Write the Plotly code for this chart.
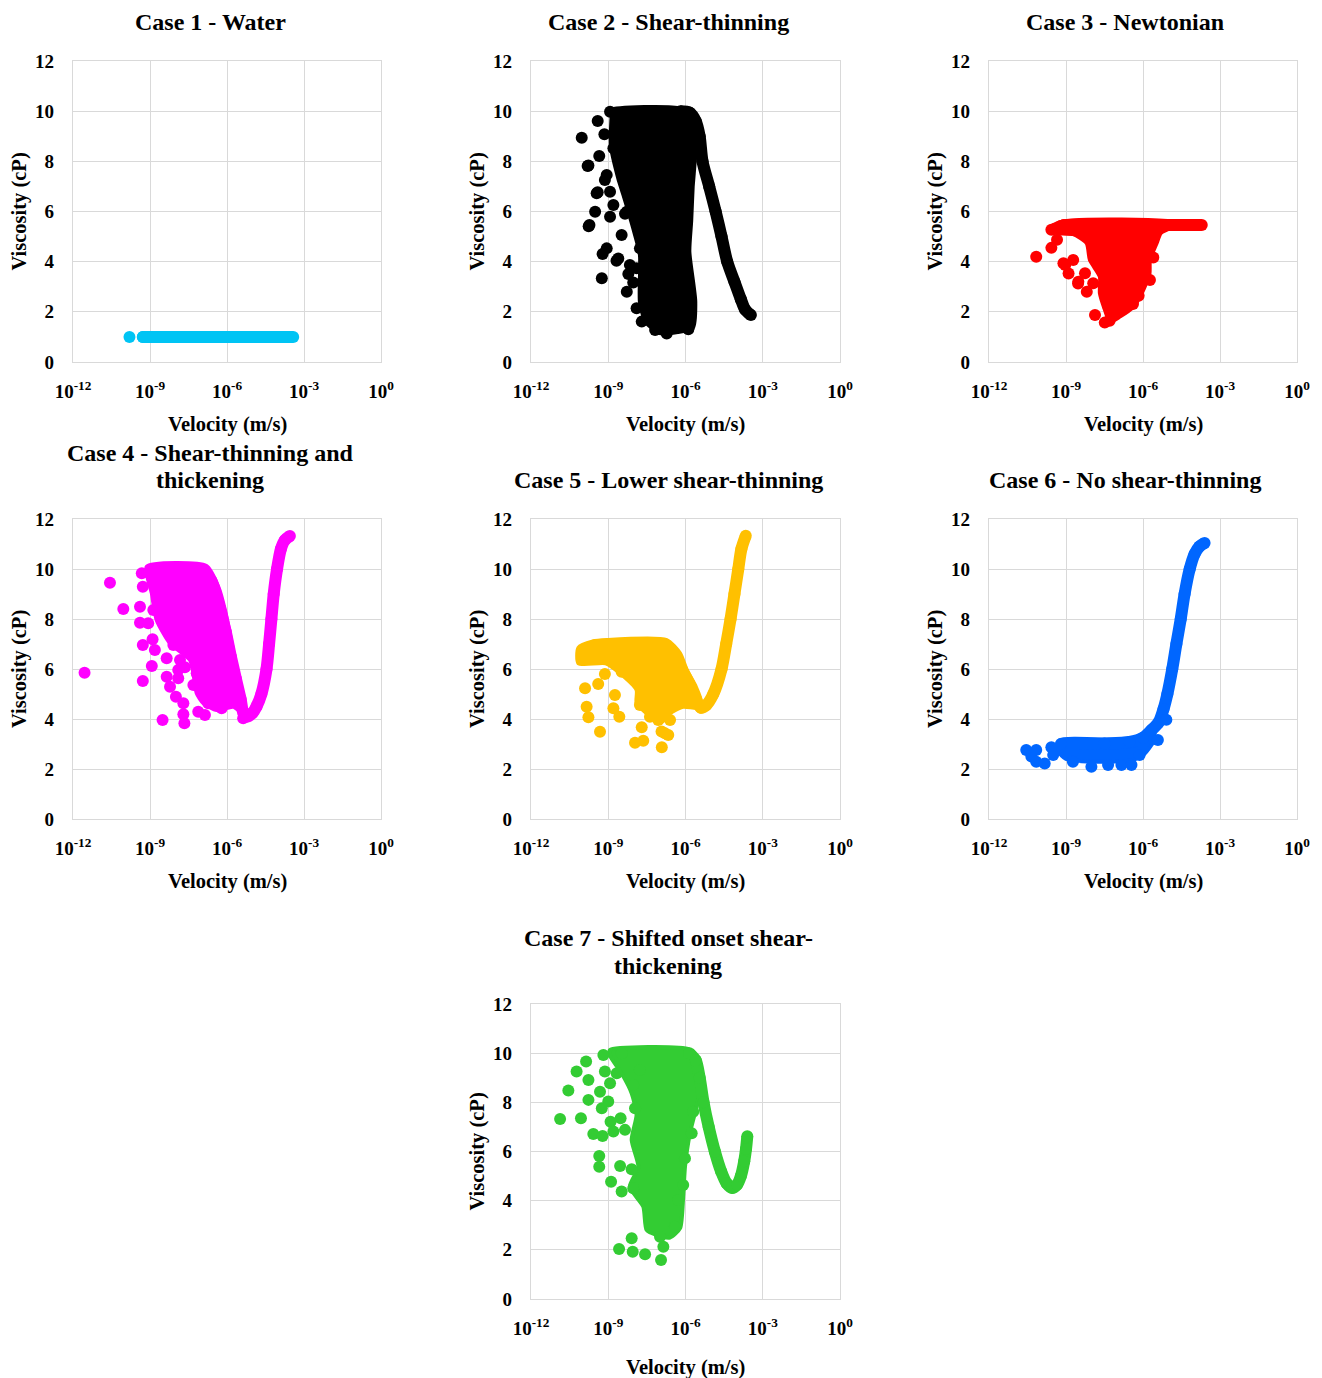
import plotly.graph_objects as go

W, H = 1322, 1378
SERIF = "Liberation Serif"

# ------------------------------------------------------------------
# Data: pairs of (log10 velocity [m/s], viscosity [cP])
#   *_BAND : dense traces that read as a continuous thick curve
#   *_BODY : outline of the solid, densely-packed cloud
#   *_PTS  : isolated scatter points
# ------------------------------------------------------------------
C1_BAND = [(-9.28, 1.0), (-6.0, 1.0), (-3.42, 1.0)]
C1_PTS = [(-9.80, 1.0), (-9.28, 1.0), (-9.0, 1.0)]

C2_BAND = [(-6.2, 10.0), (-5.85, 9.95), (-5.6, 9.6), (-5.45, 9.0), (-5.34, 8.0),
           (-5.08, 7.0), (-4.83, 6.0), (-4.6, 5.0), (-4.38, 4.0), (-4.1, 3.2),
           (-3.85, 2.5), (-3.69, 2.1), (-3.46, 1.87)]
C2_BODY = [(-8.87, 10.05), (-6.2, 10.1), (-5.75, 9.7), (-5.6, 8.8), (-5.68, 7.5),
           (-5.72, 7.0), (-5.78, 5.6), (-5.85, 4.4), (-5.62, 2.4), (-5.72, 1.35),
           (-6.3, 1.2), (-7.0, 1.15), (-7.55, 1.6), (-7.77, 2.4), (-7.77, 4.27),
           (-8.03, 5.33), (-8.41, 6.66), (-8.61, 7.32), (-8.9, 8.65), (-8.87, 9.85)]
C2_PTS = [(-8.93, 9.98), (-9.41, 9.61), (-10.03, 8.94), (-9.15, 9.08), (-9.35, 8.21),
          (-9.77, 7.83), (-9.06, 7.46), (-9.41, 6.77), (-9.51, 5.99), (-9.73, 5.46),
          (-8.93, 5.79), (-8.80, 6.26), (-9.06, 4.53), (-8.61, 4.13), (-9.25, 3.34),
          (-8.28, 2.80), (-8.48, 5.06), (-8.28, 5.99), (-8.09, 6.39), (-7.90, 2.14),
          (-7.70, 1.61), (-7.18, 1.28), (-6.73, 1.14), (-7.77, 4.53), (-7.90, 3.74),
          (-8.16, 3.87), (-8.80, 8.52), (-8.93, 6.79), (-9.13, 7.26), (-9.76, 5.41),
          (-9.80, 7.81), (-9.45, 6.73), (-9.22, 4.31), (-8.68, 4.04), (-8.35, 5.91),
          (-5.89, 1.31), (-8.22, 3.51), (-8.03, 3.17)]

C3_BAND = [(-9.45, 5.3), (-9.1, 5.45), (-6.0, 5.46), (-3.71, 5.46)]
C3_BODY = [(-9.3, 5.55), (-4.5, 5.55), (-5.3, 5.15), (-5.47, 4.73), (-5.73, 4.07),
           (-5.75, 3.5), (-6.05, 2.74), (-6.38, 2.2), (-6.9, 1.81), (-7.29, 1.6),
           (-7.48, 2.07), (-7.68, 2.74), (-7.68, 3.4), (-8.07, 4.07), (-8.19, 4.73),
           (-8.72, 5.1), (-9.3, 5.15)]
C3_PTS = [(-10.16, 4.2), (-9.57, 4.55), (-9.35, 4.87), (-9.57, 5.27), (-9.03, 3.87),
          (-8.9, 3.53), (-8.72, 4.07), (-8.53, 3.13), (-8.26, 3.54), (-8.19, 2.8),
          (-7.94, 3.14), (-7.87, 1.87), (-7.49, 1.57), (-7.3, 1.64), (-7.36, 2.24),
          (-6.39, 2.31), (-6.17, 2.64), (-5.73, 3.27), (-5.6, 4.17), (-9.1, 3.94),
          (-8.52, 3.2)]

C4_BAND = [(-7.0, 10.0), (-6.6, 9.5), (-6.3, 8.5), (-6.05, 7.5), (-5.85, 6.5),
           (-5.65, 5.6), (-5.47, 4.8), (-5.35, 4.2), (-5.22, 4.1), (-5.0, 4.25),
           (-4.85, 4.5), (-4.66, 5.0), (-4.46, 6.0), (-4.36, 7.0), (-4.27, 8.0),
           (-4.18, 9.0), (-4.05, 10.0), (-3.9, 10.8), (-3.75, 11.15), (-3.55, 11.32)]
C4_BODY = [(-9.13, 10.09), (-6.8, 10.12), (-6.34, 9.29), (-6.08, 8.36), (-5.82, 7.03),
           (-5.56, 5.69), (-5.3, 4.63), (-5.35, 4.2), (-5.75, 4.49), (-6.4, 4.36),
           (-6.92, 4.63), (-7.18, 5.03), (-7.31, 5.83), (-7.44, 6.36), (-8.22, 7.03),
           (-8.74, 7.96), (-8.93, 9.03)]
C4_PTS = [(-11.55, 5.85), (-10.56, 9.45), (-10.04, 8.4), (-9.32, 9.83), (-9.28, 9.29),
          (-9.39, 8.49), (-9.39, 7.85), (-9.28, 6.96), (-8.93, 6.12), (-9.28, 5.52),
          (-8.81, 6.76), (-8.9, 7.19), (-8.35, 6.43), (-8.51, 3.96), (-8.35, 5.69),
          (-8.22, 5.29), (-7.9, 5.63), (-7.99, 4.89), (-7.7, 4.63), (-7.7, 4.19),
          (-7.66, 3.83), (-7.83, 6.36), (-7.64, 6.07), (-7.12, 4.29), (-6.86, 4.16),
          (-6.73, 4.63), (-6.21, 4.43), (-6.47, 4.96), (-7.31, 5.36), (-7.9, 5.96),
          (-9.07, 7.83), (-8.87, 8.36), (-8.74, 9.03), (-8.35, 7.76), (-8.54, 8.49),
          (-8.09, 6.96), (-7.44, 6.89), (-7.18, 5.83), (-6.66, 5.29), (-5.37, 4.03)]

C5_BAND = [(-6.95, 7.0), (-6.5, 6.6), (-6.15, 6.0), (-5.85, 5.4), (-5.6, 4.8),
           (-5.4, 4.45), (-5.2, 4.55), (-4.92, 5.0), (-4.6, 6.0), (-4.42, 7.0),
           (-4.25, 8.0), (-4.1, 9.0), (-3.95, 10.0), (-3.83, 10.8), (-3.66, 11.33)]
C5_BODY = [(-10.16, 6.85), (-9.6, 7.1), (-9.06, 7.16), (-6.73, 7.16), (-6.21, 6.63),
           (-5.95, 5.96), (-5.6, 5.29), (-5.4, 4.7), (-5.5, 4.45), (-6.09, 4.49),
           (-6.6, 4.23), (-6.99, 3.83), (-7.51, 4.23), (-7.9, 4.63), (-7.9, 5.16),
           (-8.54, 5.83), (-9.1, 6.23), (-10.16, 6.23)]
C5_PTS = [(-9.90, 5.23), (-9.84, 4.49), (-9.77, 4.07), (-9.32, 3.49), (-9.39, 5.4),
          (-9.13, 5.8), (-8.74, 4.96), (-8.80, 4.43), (-8.57, 4.09), (-8.48, 5.89),
          (-7.96, 3.05), (-7.64, 3.13), (-7.7, 3.67), (-6.92, 2.87), (-6.8, 3.43),
          (-7.64, 5.09), (-7.77, 4.56), (-7.38, 4.09), (-7.06, 3.96), (-6.6, 3.96),
          (-9.97, 6.69), (-9.97, 6.39), (-9.51, 6.96), (-9.58, 6.63), (-6.93, 3.5),
          (-6.67, 3.36)]

C6_BAND = [(-9.2, 3.0), (-7.5, 3.02), (-6.52, 3.08), (-6.0, 3.25), (-5.68, 3.55),
           (-5.4, 3.85), (-5.2, 4.4), (-5.05, 5.0), (-4.86, 6.0), (-4.7, 7.0),
           (-4.53, 8.0), (-4.38, 9.0), (-4.18, 10.0), (-3.99, 10.6), (-3.8, 10.9),
           (-3.6, 11.04)]
C6_BODY = [(-9.25, 3.15), (-6.4, 3.15), (-5.9, 3.35), (-5.55, 3.7), (-5.6, 3.1),
           (-5.95, 2.6), (-6.4, 2.35), (-7.2, 2.3), (-8.2, 2.3), (-9.0, 2.4),
           (-9.3, 2.7)]
C6_PTS = [(-10.55, 2.76), (-10.35, 2.5), (-10.16, 2.76), (-10.16, 2.29), (-9.83, 2.22),
          (-9.57, 2.87), (-9.5, 2.56), (-8.73, 2.29), (-8.01, 2.09), (-7.36, 2.16),
          (-6.84, 2.16), (-6.45, 2.16), (-6.13, 2.56), (-5.42, 3.16), (-5.09, 3.97)]

C7_BAND = [(-5.85, 10.0), (-5.6, 9.7), (-5.45, 9.0), (-5.3, 8.0), (-5.1, 7.0),
           (-4.86, 6.0), (-4.62, 5.2), (-4.4, 4.7), (-4.2, 4.52), (-4.0, 4.65),
           (-3.85, 5.0), (-3.72, 5.6), (-3.65, 6.1), (-3.6, 6.62)]
C7_BODY = [(-8.93, 10.13), (-5.85, 10.15), (-5.55, 9.7), (-5.4, 8.6), (-5.57, 7.82),
           (-5.83, 6.74), (-6.02, 5.38), (-6.09, 4.16), (-6.21, 2.88), (-6.6, 2.5),
           (-7.12, 2.6), (-7.51, 2.81), (-7.64, 3.76), (-8.16, 4.57), (-7.83, 5.38),
           (-8.09, 6.47), (-7.9, 7.5), (-8.09, 8.37), (-8.48, 9.18), (-8.93, 9.9)]
C7_PTS = [(-10.87, 7.32), (-10.06, 7.35), (-10.55, 8.48), (-10.23, 9.25), (-9.86, 9.66),
          (-9.77, 8.91), (-9.77, 8.10), (-9.32, 8.43), (-9.0, 8.03), (-9.25, 7.76),
          (-9.58, 6.71), (-9.22, 6.63), (-8.91, 7.21), (-8.52, 7.35), (-8.80, 6.81),
          (-8.35, 6.88), (-9.35, 5.82), (-9.35, 5.38), (-8.54, 5.41), (-8.09, 5.28),
          (-8.89, 4.77), (-8.48, 4.37), (-8.03, 4.50), (-8.09, 2.47), (-8.58, 2.03),
          (-8.05, 1.92), (-7.57, 1.82), (-6.95, 1.59), (-6.86, 2.13), (-6.99, 2.53),
          (-6.41, 2.94), (-6.28, 4.03), (-6.09, 4.64), (-6.02, 5.72), (-5.76, 6.74),
          (-5.70, 7.62), (-7.96, 7.76), (-8.03, 8.71), (-9.13, 9.25), (-8.67, 9.18),
          (-8.93, 8.78), (-9.19, 9.93), (-8.48, 10.0), (-7.77, 9.32)]

TITLES = ["Case 1 - Water", "Case 2 - Shear-thinning", "Case 3 - Newtonian",
          "Case 4 - Shear-thinning and<br>thickening", "Case 5 - Lower shear-thinning",
          "Case 6 - No shear-thinning", "Case 7 - Shifted onset shear-<br>thickening"]
COLORS = ["#00C4F4", "#000000", "#FF0000", "#FF00FF", "#FFC000", "#0066FF", "#33CC33"]

X_TICKVALS = [1e-12, 1e-9, 1e-6, 1e-3, 1]
X_TICKTEXT = ["10<sup>-12</sup>", "10<sup>-9</sup>", "10<sup>-6</sup>",
              "10<sup>-3</sup>", "10<sup>0</sup>"]

SERIES = [
    (C1_BAND, None, C1_PTS),
    (C2_BAND, C2_BODY, C2_PTS),
    (C3_BAND, C3_BODY, C3_PTS),
    (C4_BAND, C4_BODY, C4_PTS),
    (C5_BAND, C5_BODY, C5_PTS),
    (C6_BAND, C6_BODY, C6_PTS),
    (C7_BAND, C7_BODY, C7_PTS),
]

# ------------------------------------------------------------------
# Layout geometry (pixels): plot-area boxes and text anchors
# ------------------------------------------------------------------
COL_X = [(73, 381), (531, 840), (989, 1297)]
ROW_Y = [(61, 362), (519, 819), (1004, 1299)]
PANEL_POS = [(0, 0), (0, 1), (0, 2), (1, 0), (1, 1), (1, 2), (2, 1)]
TITLE_CX = [210, 668, 1125]
TITLE_LINES_Y = {0: [22], 1: [453, 480], 2: [938, 966]}
VEL_LABEL_Y = [424, 881, 1367]

MARK = 12


def px(x):
    return x / W


def py(y):
    return 1 - y / H


def unzip(pairs):
    return [10 ** p[0] for p in pairs], [p[1] for p in pairs]


fig = go.Figure()
annotations = []
layout_axes = {}

for i, ((band, body, pts), color) in enumerate(zip(SERIES, COLORS)):
    r, c = PANEL_POS[i]
    n = "" if i == 0 else str(i + 1)
    xa, ya = "x" + n, "y" + n
    x0, x1 = COL_X[c]
    y0, y1 = ROW_Y[r]

    axis_font = dict(family=SERIF, size=19, color="black", weight="bold")
    layout_axes["xaxis" + n] = dict(
        domain=[px(x0), px(x1)], anchor=ya, type="log", range=[-12, 0],
        tickvals=X_TICKVALS, ticktext=X_TICKTEXT, tickfont=axis_font,
        showgrid=True, gridcolor="#D9D9D9", gridwidth=1.3,
        showline=True, linecolor="#D9D9D9", linewidth=1.3, mirror=True,
        zeroline=False, ticks="", ticklabelstandoff=12, automargin=False,
    )
    layout_axes["yaxis" + n] = dict(
        domain=[py(y1), py(y0)], anchor=xa, range=[0, 12], tick0=0, dtick=2,
        tickfont=axis_font, showgrid=True, gridcolor="#D9D9D9", gridwidth=1.3,
        showline=True, linecolor="#D9D9D9", linewidth=1.3, mirror=True,
        zeroline=False, ticks="", ticklabelstandoff=14, automargin=False,
    )

    if body:
        bx, by = unzip(body)
        fig.add_trace(go.Scatter(
            x=bx + bx[:1], y=by + by[:1], xaxis=xa, yaxis=ya, mode="lines",
            fill="toself", fillcolor=color,
            line=dict(color=color, width=4, shape="spline", smoothing=0.6),
            hoverinfo="skip"))
    kx, ky = unzip(band)
    fig.add_trace(go.Scatter(
        x=kx, y=ky, xaxis=xa, yaxis=ya, mode="lines+markers",
        line=dict(color=color, width=MARK, shape="spline", smoothing=0.8),
        marker=dict(color=color, size=MARK)))
    sx, sy = unzip(pts)
    fig.add_trace(go.Scatter(
        x=sx, y=sy, xaxis=xa, yaxis=ya, mode="markers",
        marker=dict(color=color, size=MARK)))

    # panel title (one annotation per line)
    lines = TITLES[i].split("<br>")
    ys = TITLE_LINES_Y[r] if len(lines) > 1 else ([22] if r == 0 else [480])
    for line, ty in zip(lines, ys):
        annotations.append(dict(
            text=line, x=px(TITLE_CX[c]), y=py(ty), xref="paper", yref="paper",
            xanchor="center", yanchor="middle", showarrow=False,
            font=dict(family=SERIF, size=24, color="black", weight="bold")))

    # axis titles
    annotations.append(dict(
        text="Velocity (m/s)", x=px((x0 + x1) / 2), y=py(VEL_LABEL_Y[r]),
        xref="paper", yref="paper", xanchor="center", yanchor="middle",
        showarrow=False, font=dict(family=SERIF, size=20.5, color="black", weight="bold")))
    annotations.append(dict(
        text="Viscosity (cP)", x=px(x0 - 54), y=py((y0 + y1) / 2),
        xref="paper", yref="paper", xanchor="center", yanchor="middle",
        textangle=-90, showarrow=False,
        font=dict(family=SERIF, size=20.5, color="black", weight="bold")))

fig.update_layout(
    width=W, height=H, margin=dict(l=0, r=0, t=0, b=0, autoexpand=False),
    paper_bgcolor="white", plot_bgcolor="white", showlegend=False,
    annotations=annotations, **layout_axes,
)

fig.write_html("out.html")
